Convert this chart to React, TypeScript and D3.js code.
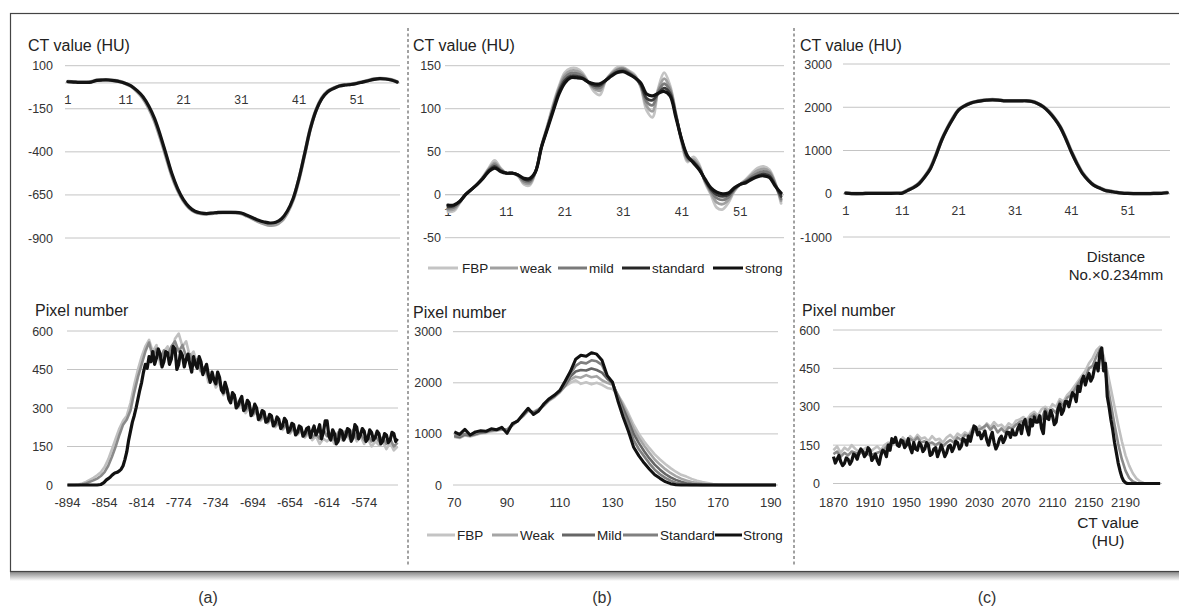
import * as d3 from "d3";
import { useEffect, useRef } from "react";

const WIDTH = 1179;
const HEIGHT = 608;
const FONT = "'Liberation Sans', Arial, sans-serif";
const GRID = "#c4c4c4";
const TEXT = "#333";

// ---------- top row: CT value profile, sample No. 1..58 ----------
const profileNo = d3.range(1, 59);
const profileLabels = [1, 11, 21, 31, 41, 51];

const lungYTicks = [100, -150, -400, -650, -900];
const lungProfileFBP = [8, 6, 4, 4, 6, 16, 18, 18, 14, 8, -4, -20, -50, -88, -145, -220, -318, -428, -538, -622, -684, -725, -748, -757, -760, -757, -753, -752, -752, -753, -758, -772, -788, -805, -818, -826, -822, -800, -752, -678, -560, -412, -262, -155, -86, -48, -30, -17, -11, -8, -2, 6, 14, 22, 26, 24, 18, 6];
const lungProfileStrong = [7, 5, 3, 3, 5, 15, 17, 17, 13, 7, -3, -18, -45, -80, -134, -206, -303, -414, -526, -613, -677, -720, -745, -755, -758, -755, -751, -751, -751, -751, -755, -768, -782, -797, -807, -813, -809, -788, -743, -671, -555, -410, -264, -158, -90, -51, -32, -18, -12, -9, -3, 5, 13, 21, 25, 23, 17, 5];

const softYTicks = [150, 100, 50, 0, -50];
const softProfileFBP = [-20, -19, -10, 0, 6, 12, 21, 31, 40, 31, 25, 25, 22, 12, 11, 27, 57, 80, 105, 126, 142, 147, 147, 142, 131, 120, 116, 133, 142, 148, 148, 144, 139, 125, 98, 90, 124, 142, 127, 95, 60, 38, 44, 35, 14, 0, -15, -17, -9, 4, 12, 18, 25, 31, 33, 29, 14, -10];
const softProfileWeak = [-18, -17, -9, 0, 6, 12, 20, 30, 37, 30, 25, 25, 22, 14, 13, 27, 56, 79, 103, 124, 139, 144, 144, 140, 131, 123, 121, 133, 141, 146, 147, 143, 138, 126, 103, 97, 122, 135, 124, 94, 62, 40, 41, 33, 15, 2, -9, -11, -6, 5, 12, 17, 23, 28, 30, 27, 13, -7];
const softProfileMild = [-16, -15, -9, 0, 6, 12, 20, 29, 35, 29, 25, 25, 23, 16, 15, 27, 56, 78, 101, 122, 136, 141, 141, 138, 131, 125, 124, 133, 140, 145, 146, 142, 137, 127, 108, 104, 120, 129, 121, 93, 63, 42, 39, 31, 16, 4, -4, -6, -3, 6, 12, 16, 21, 25, 27, 25, 12, -5];
const softProfileStandard = [-14, -13, -8, 0, 6, 12, 19, 28, 33, 28, 25, 25, 23, 18, 17, 27, 55, 77, 99, 120, 133, 138, 138, 136, 131, 127, 127, 133, 139, 143, 144, 141, 136, 128, 112, 110, 118, 124, 118, 92, 64, 44, 38, 30, 17, 6, 0, -2, 0, 7, 12, 15, 19, 22, 24, 22, 11, -2];
const softProfileStrong = [-12, -12, -8, 0, 6, 12, 19, 27, 31, 27, 25, 25, 23, 19, 19, 27, 55, 76, 97, 117, 130, 136, 136, 135, 131, 129, 129, 133, 138, 142, 143, 140, 136, 130, 117, 115, 118, 120, 115, 90, 64, 45, 37, 29, 18, 8, 3, 1, 2, 8, 12, 14, 18, 21, 22, 20, 10, 2];

const boneYTicks = [3000, 2000, 1000, 0, -1000];
const boneProfileFBP = [18, 6, 4, 6, 12, 12, 12, 12, 12, 14, 20, 85, 150, 245, 400, 600, 905, 1250, 1520, 1750, 1940, 2030, 2092, 2130, 2153, 2168, 2176, 2168, 2152, 2150, 2150, 2150, 2150, 2136, 2092, 2018, 1905, 1752, 1560, 1290, 980, 710, 478, 320, 200, 136, 80, 56, 33, 17, 10, 6, 6, 6, 6, 9, 12, 26];
const boneProfileStrong = [15, 5, 3, 5, 10, 10, 10, 10, 10, 12, 15, 77, 139, 232, 387, 580, 889, 1237, 1507, 1739, 1933, 2025, 2087, 2126, 2149, 2164, 2172, 2164, 2149, 2149, 2149, 2149, 2149, 2133, 2087, 2010, 1894, 1739, 1546, 1275, 966, 696, 464, 309, 193, 131, 77, 54, 31, 15, 8, 5, 5, 5, 5, 8, 10, 23];

// ---------- bottom row: histograms (pixel number per CT value) ----------
const histYTicks600 = [0, 150, 300, 450, 600];
const histYTicks3000 = [0, 1000, 2000, 3000];

// lung: gray series sampled every 4 HU, strong every 2 HU, from -894
const lungHistStart = -894;
const lungHistTicks = [-894, -854, -814, -774, -734, -694, -654, -614, -574];
const lungHistFBP = [0, 0, 0, 2, 6, 12, 20, 28, 38, 50, 70, 100, 140, 180, 220, 250, 270, 320, 390, 450, 500, 540, 565, 520, 545, 470, 520, 540, 500, 570, 590, 540, 560, 500, 520, 470, 440, 460, 400, 420, 380, 400, 350, 370, 330, 345, 300, 320, 280, 300, 270, 285, 250, 265, 240, 255, 225, 240, 215, 230, 200, 220, 195, 210, 185, 200, 175, 190, 160, 180, 170, 185, 160, 195, 175, 200, 180, 205, 170, 190, 160, 180, 150, 170, 155, 170, 140, 165, 135, 150];
const lungHistMild = [0, 0, 0, 0, 2, 6, 12, 18, 25, 35, 50, 75, 110, 150, 195, 235, 255, 290, 360, 420, 470, 520, 555, 500, 530, 490, 525, 505, 540, 560, 520, 545, 500, 510, 470, 490, 445, 460, 420, 430, 390, 410, 355, 375, 330, 350, 305, 330, 290, 310, 275, 290, 255, 275, 245, 260, 230, 245, 220, 235, 205, 225, 200, 215, 190, 210, 185, 200, 180, 215, 190, 200, 175, 205, 185, 210, 190, 215, 180, 200, 175, 195, 170, 190, 170, 185, 160, 180, 150, 165];
const lungHistStrong = [
  0, 0, 0, 0, 0, 0, 0, 0, 0, 0, 0, 0, 0, 0, 0, 0, 0, 1, 2, 6,
  12, 20, 25, 30, 38, 44, 48, 50, 55, 62, 75, 100, 130, 175, 210, 245, 270, 300, 335, 370,
  400, 440, 470, 455, 500, 480, 520, 470, 495, 530, 510, 460, 480, 520, 515, 470, 490, 540, 530, 450,
  470, 520, 505, 460, 490, 510, 470, 440, 500, 470, 455, 500, 480, 430, 450, 470, 430, 400, 440, 410,
  395, 440, 420, 370, 360, 400, 375, 335, 320, 360, 350, 300, 310, 330, 345, 290, 300, 330, 320, 270,
  285, 315, 300, 255, 265, 290, 285, 245, 250, 275, 270, 230, 240, 265, 255, 220, 230, 260, 250, 205,
  215, 240, 235, 195, 205, 230, 225, 190, 200, 220, 225, 185, 210, 230, 195, 210, 235, 180, 205, 250,
  250, 190, 175, 215, 200, 160, 170, 215, 210, 175, 190, 220, 215, 170, 185, 235, 225, 180, 195, 220,
  210, 170, 180, 215, 205, 175, 185, 210, 200, 160, 170, 200, 195, 165, 175, 205, 200, 170, 180,
];

// soft tissue: all series every 2 HU from 70
const softHistStart = 70;
const softHistTicks = [70, 90, 110, 130, 150, 170, 190];
const softHistFBP = [940, 920, 970, 950, 980, 1010, 1020, 1050, 1060, 1080, 1090, 1160, 1250, 1340, 1450, 1430, 1490, 1550, 1650, 1720, 1810, 1930, 2000, 2050, 1980, 2010, 1970, 2000, 1960, 1900, 1880, 1760, 1600, 1400, 1180, 1000, 850, 720, 600, 500, 410, 330, 260, 200, 165, 120, 85, 58, 38, 20, 8, 2, 0, 0, 0, 0, 0, 0, 0, 0, 0, 0];
const softHistWeak = [950, 930, 980, 960, 990, 1020, 1030, 1060, 1070, 1090, 1080, 1170, 1260, 1350, 1460, 1420, 1480, 1560, 1660, 1730, 1820, 1940, 2060, 2120, 2100, 2150, 2110, 2130, 2050, 2000, 1960, 1770, 1560, 1340, 1100, 920, 770, 630, 500, 400, 310, 235, 175, 125, 90, 60, 38, 22, 10, 4, 0, 0, 0, 0, 0, 0, 0, 0, 0, 0, 0, 0];
const softHistMild = [960, 940, 990, 970, 1000, 1030, 1040, 1070, 1080, 1100, 1070, 1180, 1260, 1360, 1470, 1410, 1470, 1570, 1670, 1740, 1830, 1950, 2120, 2220, 2250, 2240, 2280, 2250, 2200, 2080, 1990, 1740, 1500, 1260, 1000, 820, 660, 520, 400, 300, 215, 150, 100, 62, 36, 18, 7, 2, 0, 0, 0, 0, 0, 0, 0, 0, 0, 0, 0, 0, 0, 0];
const softHistStandard = [980, 960, 1000, 990, 1010, 1040, 1050, 1080, 1090, 1110, 1060, 1190, 1250, 1370, 1480, 1400, 1460, 1580, 1680, 1750, 1840, 1960, 2180, 2330, 2400, 2380, 2440, 2420, 2350, 2120, 2010, 1700, 1420, 1160, 880, 700, 560, 420, 300, 210, 140, 85, 45, 20, 8, 2, 0, 0, 0, 0, 0, 0, 0, 0, 0, 0, 0, 0, 0, 0, 0, 0];
const softHistStrong = [1040, 990, 1090, 980, 1040, 1060, 1050, 1100, 1080, 1130, 1010, 1200, 1250, 1380, 1500, 1380, 1450, 1590, 1690, 1760, 1850, 2030, 2220, 2460, 2540, 2520, 2590, 2560, 2440, 2140, 2010, 1650, 1330, 1050, 740, 570, 430, 310, 200, 130, 65, 25, 5, 0, 0, 0, 0, 0, 0, 0, 0, 0, 0, 0, 0, 0, 0, 0, 0, 0, 0, 0];

// bone: gray series every 4 HU, strong every 2 HU, from 1870
const boneHistStart = 1870;
const boneHistTicks = [1870, 1910, 1950, 1990, 2030, 2070, 2110, 2150, 2190];
const boneHistFBP = [130, 145, 120, 140, 130, 150, 135, 125, 130, 140, 120, 135, 145, 130, 150, 160, 150, 170, 155, 180, 165, 185, 170, 190, 175, 180, 165, 185, 170, 175, 160, 180, 190, 175, 195, 185, 200, 190, 215, 200, 225, 210, 235, 220, 240, 225, 230, 215, 235, 225, 245, 250, 260, 250, 270, 280, 265, 290, 300, 285, 310, 300, 330, 320, 345, 360, 380, 400, 420, 440, 470, 490, 520, 535, 500, 440, 370, 300, 230, 165, 110, 70, 40, 20, 8, 2, 0, 0, 0, 0];
const boneHistMild = [115, 125, 105, 120, 110, 125, 120, 115, 125, 120, 110, 115, 120, 125, 135, 150, 160, 165, 150, 170, 160, 175, 165, 180, 160, 165, 155, 160, 150, 160, 145, 160, 170, 160, 180, 170, 190, 185, 205, 215, 210, 220, 230, 210, 225, 200, 215, 200, 220, 215, 230, 240, 245, 235, 260, 270, 255, 250, 290, 270, 290, 275, 320, 305, 335, 345, 365, 390, 410, 415, 450, 460, 495, 525, 470, 390, 310, 230, 155, 95, 50, 22, 8, 2, 0, 0, 0, 0, 0, 0];
const boneHistStrong = [
  105, 80, 95, 110, 85, 70, 78, 100, 95, 75, 88, 115, 110, 95, 120, 135, 125, 105, 115, 140,
  130, 90, 100, 115, 90, 75, 110, 130, 125, 105, 150, 130, 175, 160, 180, 150, 145, 170, 165, 140,
  150, 175, 140, 120, 160, 135, 130, 160, 150, 125, 135, 160, 150, 110, 115, 135, 140, 105, 125, 150,
  130, 105, 120, 145, 150, 125, 140, 165, 160, 135, 145, 175, 170, 150, 185, 165, 195, 225, 220, 190,
  200, 175, 190, 205, 170, 150, 180, 200, 160, 135, 150, 175, 185, 160, 175, 200, 200, 180, 210, 190,
  190, 215, 230, 195, 235, 250, 215, 190, 250, 225, 260, 240, 240, 265, 215, 195, 280, 255, 250, 285,
  265, 230, 240, 290, 310, 270, 285, 320, 320, 300, 330, 355, 345, 320, 380, 360, 400, 420, 385, 410,
  430, 400, 415, 450, 470, 440, 510, 530, 440, 470, 340, 300, 250, 210, 160, 120, 80, 50, 25, 10,
  3, 0, 0, 0, 0, 0, 0, 0, 0, 0, 0, 0, 0, 0, 0, 0, 0, 0, 0, 0,
];

const legendTopNames = ["FBP", "weak", "mild", "standard", "strong"];
const legendTopColors = ["#c4c4c4", "#a0a0a0", "#7a7a7a", "#262626", "#111"];
const legendBottomNames = ["FBP", "Weak", "Mild", "Standard", "Strong"];
const legendBottomColors = ["#c4c4c4", "#a5a5a5", "#666", "#808080", "#111"];

const captions = ["(a)", "(b)", "(c)"];

const drawGrid = (g, y, ticks, x0, x1, labelX) => {
  ticks.forEach((t) => {
    g.append("line")
      .attr("x1", x0)
      .attr("x2", x1)
      .attr("y1", y(t))
      .attr("y2", y(t))
      .attr("stroke", GRID)
      .attr("stroke-width", 1);
    g.append("text")
      .attr("x", labelX)
      .attr("y", y(t) + 4.5)
      .attr("text-anchor", "end")
      .attr("font-size", 12.5)
      .attr("fill", TEXT)
      .text(String(t));
  });
};

const drawTitle = (g, x, y, txt) =>
  g
    .append("text")
    .attr("x", x)
    .attr("y", y)
    .attr("font-size", 16)
    .attr("fill", "#222")
    .text(txt);

const drawProfile = (svg, cfg) => {
  const g = svg.append("g");
  const x = d3
    .scalePoint()
    .domain(profileNo)
    .range(cfg.xRange)
    .padding(0.5);
  const y = d3.scaleLinear().domain(cfg.yDomain).range(cfg.yRange);

  drawGrid(g, y, cfg.yTicks, cfg.xRange[0], cfg.xRange[1], cfg.labelX);
  // horizontal axis crosses at 0
  g.append("line")
    .attr("x1", cfg.xRange[0])
    .attr("x2", cfg.xRange[1])
    .attr("y1", y(0))
    .attr("y2", y(0))
    .attr("stroke", GRID);

  profileLabels.forEach((n) => {
    g.append("text")
      .attr("x", x(n))
      .attr("y", y(0) + 21)
      .attr("text-anchor", "middle")
      .attr("font-family", "'Liberation Mono', monospace")
      .attr("font-size", 12)
      .attr("fill", TEXT)
      .text(n);
  });

  drawTitle(g, cfg.titleX, 51, "CT value (HU)");

  const line = d3
    .line()
    .x((d, i) => x(profileNo[i]))
    .y((d) => y(d))
    .curve(d3.curveCatmullRom.alpha(0.5));

  cfg.series.forEach((s) => {
    g.append("path")
      .attr("d", line(s.values))
      .attr("fill", "none")
      .attr("stroke", s.color)
      .attr("stroke-width", s.width)
      .attr("stroke-linejoin", "round")
      .attr("stroke-linecap", "round");
  });
};

const drawHistogram = (svg, cfg) => {
  const g = svg.append("g");
  const x = d3.scaleLinear().domain(cfg.xDomain).range(cfg.xRange);
  const y = d3.scaleLinear().domain(cfg.yDomain).range(cfg.yRange);

  drawGrid(g, y, cfg.yTicks, cfg.xRange[0], cfg.gridEnd, cfg.labelX);

  cfg.xTicks.forEach((t) => {
    g.append("text")
      .attr("x", x(t))
      .attr("y", 507)
      .attr("text-anchor", "middle")
      .attr("font-size", 13)
      .attr("fill", TEXT)
      .text(String(t));
  });

  drawTitle(g, cfg.titleX, cfg.titleY, "Pixel number");

  svg
    .select("defs")
    .append("clipPath")
    .attr("id", cfg.clipId)
    .append("rect")
    .attr("x", cfg.xRange[0] - 2)
    .attr("y", cfg.yRange[1] - 10)
    .attr("width", cfg.gridEnd - cfg.xRange[0] + 4)
    .attr("height", cfg.yRange[0] - cfg.yRange[1] + 14);

  const plot = g.append("g").attr("clip-path", `url(#${cfg.clipId})`);
  cfg.series.forEach((s) => {
    const line = d3
      .line()
      .x((d, i) => x(cfg.start + i * s.step))
      .y((d) => y(d));
    plot
      .append("path")
      .attr("d", line(s.values))
      .attr("fill", "none")
      .attr("stroke", s.color)
      .attr("stroke-width", s.width)
      .attr("stroke-linejoin", "round");
  });
};

const drawLegend = (svg, names, colors, items, y) => {
  const g = svg.append("g");
  names.forEach((name, i) => {
    const [x0, x1, tx] = items[i];
    g.append("line")
      .attr("x1", x0)
      .attr("x2", x1)
      .attr("y1", y)
      .attr("y2", y)
      .attr("stroke", colors[i])
      .attr("stroke-width", 3);
    g.append("text")
      .attr("x", tx)
      .attr("y", y + 4.5)
      .attr("font-size", 13.5)
      .attr("fill", "#222")
      .text(name);
  });
};

const App = () => {
  const ref = useRef(null);

  useEffect(() => {
    const svg = d3.select(ref.current);
    svg.selectAll("*").remove();
    svg.attr("font-family", FONT);

    // frame with a soft shadow below
    const defs = svg.append("defs");
    const grad = defs
      .append("linearGradient")
      .attr("id", "shadow")
      .attr("x1", 0)
      .attr("x2", 0)
      .attr("y1", 0)
      .attr("y2", 1);
    grad.append("stop").attr("offset", 0).attr("stop-color", "#8a8a8a");
    grad.append("stop").attr("offset", 1).attr("stop-color", "#ffffff");
    svg
      .append("rect")
      .attr("x", 10)
      .attr("y", 572)
      .attr("width", WIDTH)
      .attr("height", 9)
      .attr("fill", "url(#shadow)");
    svg
      .append("rect")
      .attr("x", 10.5)
      .attr("y", 13.5)
      .attr("width", WIDTH + 20)
      .attr("height", 558)
      .attr("fill", "#fff")
      .attr("stroke", "#444")
      .attr("stroke-width", 1.2);

    [408, 794].forEach((xd) => {
      svg
        .append("line")
        .attr("x1", xd)
        .attr("x2", xd)
        .attr("y1", 28)
        .attr("y2", 566)
        .attr("stroke", "#444")
        .attr("stroke-width", 1)
        .attr("stroke-dasharray", "3,2.5");
    });

    drawProfile(svg, {
      titleX: 28,
      xRange: [65, 400],
      yDomain: [-900, 100],
      yRange: [238, 65.7],
      yTicks: lungYTicks,
      labelX: 53,
      series: [
        { values: lungProfileFBP, color: "#9c9c9c", width: 3.6 },
        { values: lungProfileStrong, color: "#141414", width: 3.2 },
      ],
    });

    drawProfile(svg, {
      titleX: 413,
      xRange: [445, 784],
      yDomain: [-50, 150],
      yRange: [237.7, 65.7],
      yTicks: softYTicks,
      labelX: 441,
      series: [
        { values: softProfileFBP, color: legendTopColors[0], width: 2.8 },
        { values: softProfileWeak, color: legendTopColors[1], width: 2.8 },
        { values: softProfileMild, color: legendTopColors[2], width: 2.8 },
        { values: softProfileStandard, color: "#3a3a3a", width: 2.8 },
        { values: softProfileStrong, color: legendTopColors[4], width: 3.2 },
      ],
    });

    drawProfile(svg, {
      titleX: 800,
      xRange: [843, 1170],
      yDomain: [-1000, 3000],
      yRange: [237, 64],
      yTicks: boneYTicks,
      labelX: 832,
      series: [
        { values: boneProfileFBP, color: "#9c9c9c", width: 3.6 },
        { values: boneProfileStrong, color: "#141414", width: 3.2 },
      ],
    });

    drawHistogram(svg, {
      clipId: "clipA",
      titleX: 35,
      titleY: 316,
      xDomain: [-894.5, -537.5],
      xRange: [67, 398],
      gridEnd: 398,
      yDomain: [0, 600],
      yRange: [485, 331],
      yTicks: histYTicks600,
      labelX: 53,
      xTicks: lungHistTicks,
      start: lungHistStart,
      series: [
        { values: lungHistFBP, step: 4, color: "#c0c0c0", width: 2.6 },
        { values: lungHistMild, step: 4, color: "#8a8a8a", width: 2.6 },
        { values: lungHistStrong, step: 2, color: "#111", width: 3.2 },
      ],
    });

    drawHistogram(svg, {
      clipId: "clipB",
      titleX: 413,
      titleY: 318,
      xDomain: [69.5, 193.5],
      xRange: [453, 780],
      gridEnd: 778,
      yDomain: [0, 3000],
      yRange: [485, 331.7],
      yTicks: histYTicks3000,
      labelX: 442,
      xTicks: softHistTicks,
      start: softHistStart,
      series: [
        { values: softHistFBP, step: 2, color: legendBottomColors[0], width: 2.6 },
        { values: softHistWeak, step: 2, color: legendBottomColors[1], width: 2.6 },
        { values: softHistMild, step: 2, color: legendBottomColors[2], width: 2.6 },
        { values: softHistStandard, step: 2, color: legendBottomColors[3], width: 2.6 },
        { values: softHistStrong, step: 2, color: legendBottomColors[4], width: 3 },
      ],
    });

    drawHistogram(svg, {
      clipId: "clipC",
      titleX: 802,
      titleY: 316,
      xDomain: [1869.5, 2230],
      xRange: [833, 1162],
      gridEnd: 1162,
      yDomain: [0, 600],
      yRange: [483.5, 330],
      yTicks: histYTicks600,
      labelX: 820,
      xTicks: boneHistTicks,
      start: boneHistStart,
      series: [
        { values: boneHistFBP, step: 4, color: "#c0c0c0", width: 2.6 },
        { values: boneHistMild, step: 4, color: "#8a8a8a", width: 2.6 },
        { values: boneHistStrong, step: 2, color: "#111", width: 3.2 },
      ],
    });

    drawLegend(
      svg,
      legendTopNames,
      legendTopColors,
      [
        [428, 458, 462],
        [490, 518, 520],
        [558, 587, 589],
        [622, 650, 652],
        [713, 743, 745],
      ],
      268
    );
    drawLegend(
      svg,
      legendBottomNames,
      legendBottomColors,
      [
        [427, 455, 457],
        [492, 518, 520],
        [562, 595, 597],
        [623, 658, 660],
        [715, 742, 743],
      ],
      535
    );

    // axis captions in panel (c)
    const note = svg.append("g").attr("text-anchor", "middle").attr("fill", "#222");
    note.append("text").attr("x", 1116).attr("y", 262).attr("font-size", 15).text("Distance");
    note.append("text").attr("x", 1116).attr("y", 280).attr("font-size", 15).text("No.×0.234mm");
    note.append("text").attr("x", 1108).attr("y", 528).attr("font-size", 15.5).text("CT value");
    note.append("text").attr("x", 1108).attr("y", 546).attr("font-size", 15.5).text("(HU)");

    [208, 602, 987].forEach((cx, i) => {
      svg
        .append("text")
        .attr("x", cx)
        .attr("y", 603)
        .attr("text-anchor", "middle")
        .attr("font-size", 16)
        .attr("fill", "#333")
        .text(captions[i]);
    });
  }, []);

  return (
    <svg
      ref={ref}
      width={WIDTH}
      height={HEIGHT}
      style={{ position: "absolute", left: 0, top: 0, background: "#fff" }}
    />
  );
};

export default App;
